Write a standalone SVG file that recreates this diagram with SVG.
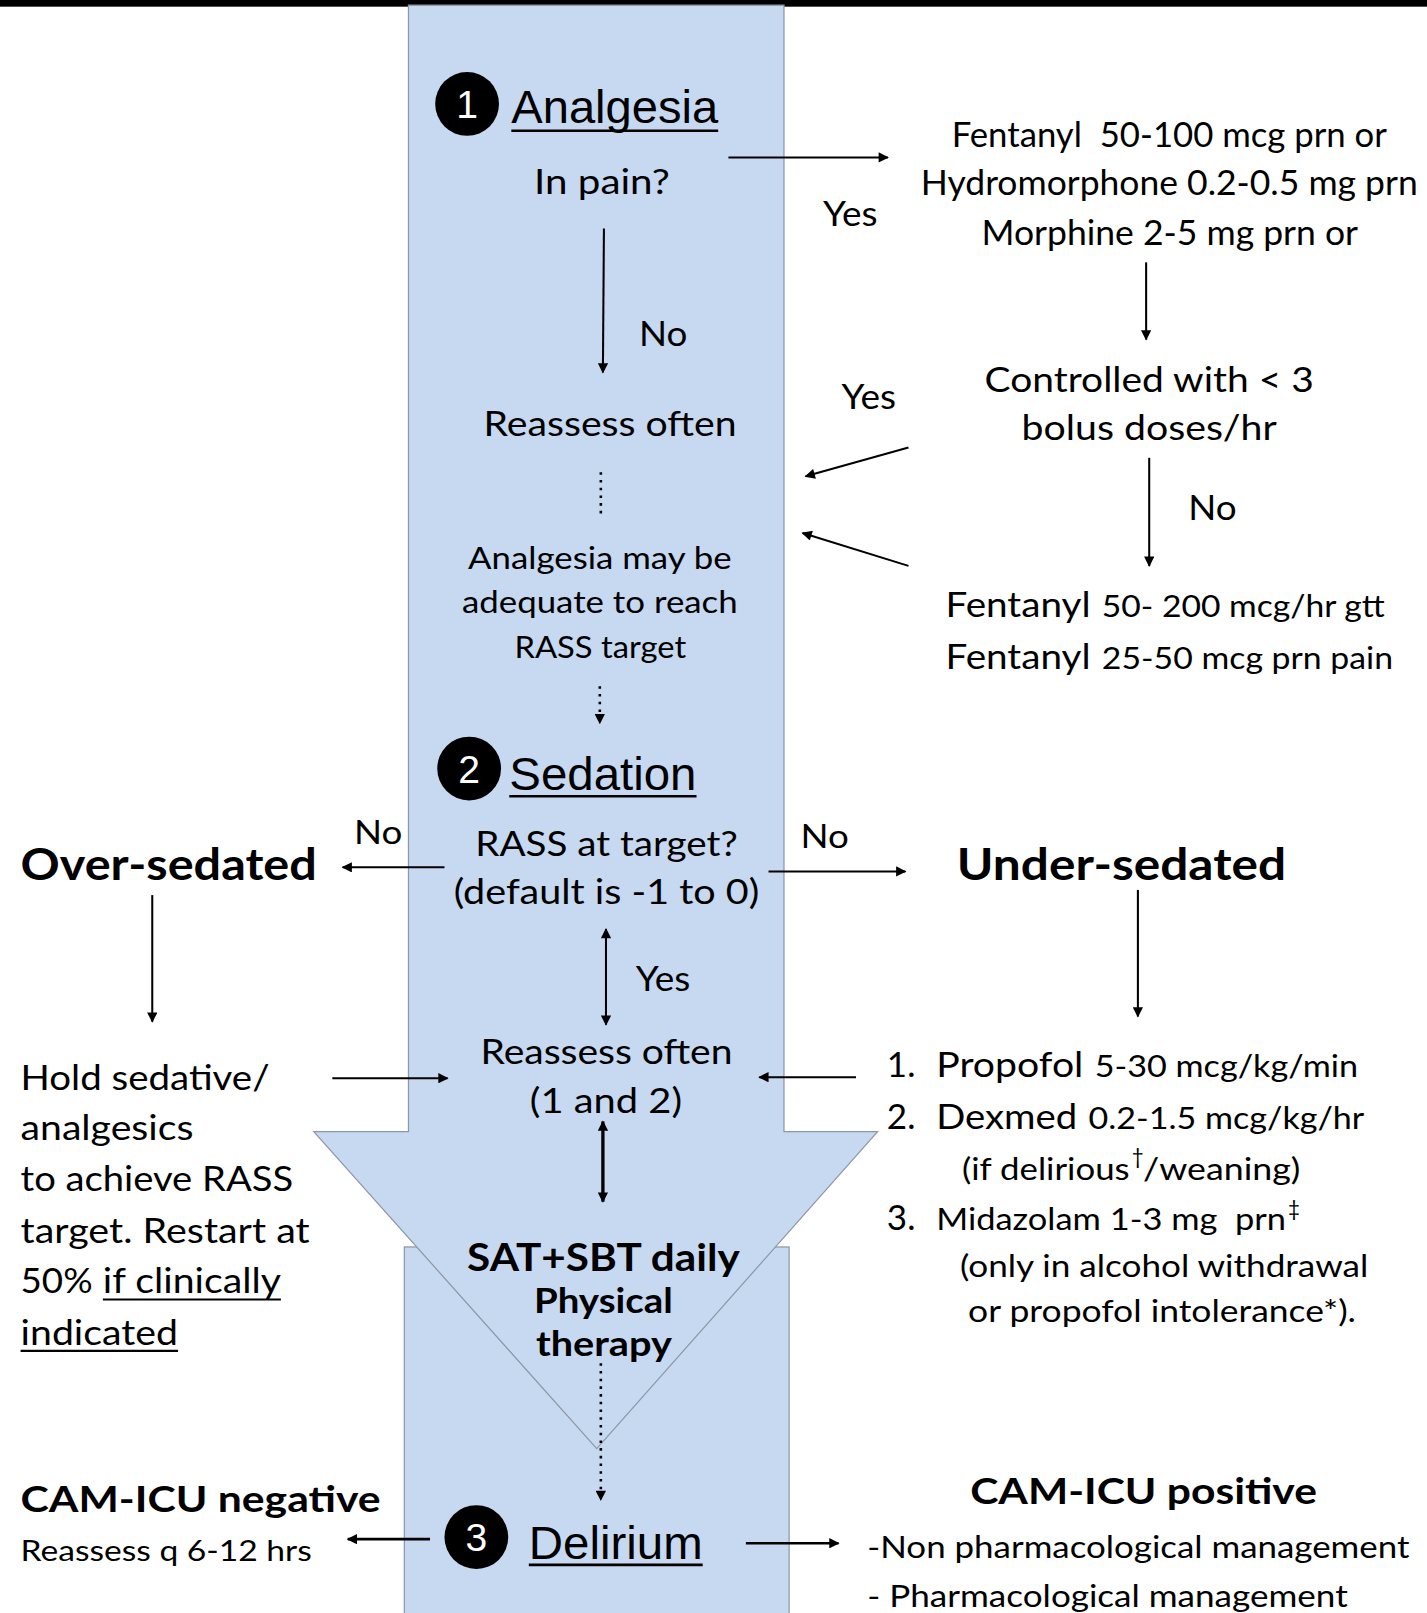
<svg xmlns="http://www.w3.org/2000/svg" width="1427" height="1613" viewBox="0 0 1427 1613">
<defs>
<style>
.t{font-family:Lato,"Open Sans","DejaVu Sans",sans-serif;fill:#000;white-space:pre;}
.b{font-family:Lato,"Open Sans","DejaVu Sans",sans-serif;font-weight:bold;fill:#000;}
.h{font-family:"Liberation Sans",Arial,sans-serif;fill:#000;}
.n{font-family:"Liberation Sans",Arial,sans-serif;fill:#fff;}
.ln{stroke:#000;stroke-width:2;fill:none;}
.dot{stroke:#000;stroke-width:2.5;fill:none;stroke-dasharray:2.5 5;}
.ul{stroke:#000;stroke-width:2.5;}
.band{fill:#c6d9f0;stroke:#8d97a6;stroke-width:1.2;}
</style>
<marker id="ah" viewBox="0 0 10 10" refX="9" refY="5" markerWidth="12" markerHeight="10" markerUnits="userSpaceOnUse" orient="auto-start-reverse">
<path d="M0,0 L10,5 L0,10 z" fill="#000"/>
</marker>
</defs>
<g transform="scale(1.02884)">
<rect x="0" y="0" width="1387" height="6.5" fill="#000"/>
<g id="band">
<rect class="band" x="393" y="1212" width="374" height="370"/>
<path class="band" d="M397,5 L762,5 L762,1100 L853,1100 L580,1408 L305,1100 L397,1100 Z"/>
</g>
<g id="connectors">
<line class="ln" x1="708" y1="153" x2="863" y2="153" marker-end="url(#ah)"/>
<line class="ln" x1="587" y1="222" x2="586" y2="362" marker-end="url(#ah)"/>
<line class="ln" x1="1114" y1="255" x2="1114" y2="330" marker-end="url(#ah)"/>
<line class="ln" x1="1117" y1="445" x2="1117" y2="550" marker-end="url(#ah)"/>
<line class="ln" x1="883" y1="435" x2="783" y2="463" marker-end="url(#ah)"/>
<line class="ln" x1="883" y1="550" x2="780" y2="518" marker-end="url(#ah)"/>
<line class="dot" x1="584" y1="459" x2="584" y2="503"/>
<line class="dot" x1="583" y1="667" x2="583" y2="703" marker-end="url(#ah)"/>
<line class="ln" x1="432" y1="843" x2="333" y2="843" marker-end="url(#ah)"/>
<line class="ln" x1="747" y1="847" x2="880" y2="847" marker-end="url(#ah)"/>
<line class="ln" x1="148" y1="870" x2="148" y2="993" marker-end="url(#ah)"/>
<line class="ln" x1="1106" y1="865" x2="1106" y2="988" marker-end="url(#ah)"/>
<line class="ln" x1="589" y1="903" x2="589" y2="996" marker-start="url(#ah)" marker-end="url(#ah)"/>
<line class="ln" x1="323" y1="1048" x2="435" y2="1048" marker-end="url(#ah)"/>
<line class="ln" x1="832" y1="1047" x2="738" y2="1047" marker-end="url(#ah)"/>
<line class="ln" style="stroke-width:3.2" x1="586" y1="1090" x2="586" y2="1168" marker-start="url(#ah)" marker-end="url(#ah)"/>
<line class="dot" x1="584" y1="1325" x2="584" y2="1458" marker-end="url(#ah)"/>
<line class="ln" style="stroke-width:2.6" x1="418" y1="1496" x2="338" y2="1496" marker-end="url(#ah)"/>
<line class="ln" style="stroke-width:2.6" x1="725" y1="1500" x2="815" y2="1500" marker-end="url(#ah)"/>
</g>
<g id="analgesia">
<circle cx="454" cy="101" r="31" fill="#000"/>
<text class="n" x="454" y="115" font-size="38" text-anchor="middle">1</text>
<text class="h" x="497" y="120" font-size="45" textLength="201" lengthAdjust="spacingAndGlyphs">Analgesia</text>
<line class="ul" x1="497" y1="127" x2="698" y2="127"/>
</g>
<g id="in-pain"><text class="t" x="519" y="189" font-size="34" textLength="132" lengthAdjust="spacingAndGlyphs">In pain?</text></g>
<g id="yes1"><text class="t" x="800" y="220" font-size="34" textLength="53" lengthAdjust="spacingAndGlyphs">Yes</text></g>
<g id="opioids">
<text class="t" x="925" y="143" font-size="33" textLength="423" lengthAdjust="spacingAndGlyphs">Fentanyl  50-100 mcg prn or</text>
<text class="t" x="895" y="190" font-size="33" textLength="483" lengthAdjust="spacingAndGlyphs">Hydromorphone 0.2-0.5 mg prn</text>
<text class="t" x="954" y="238" font-size="33" textLength="366" lengthAdjust="spacingAndGlyphs">Morphine 2-5 mg prn or</text>
</g>
<g id="no1"><text class="t" x="621" y="336" font-size="34" textLength="47" lengthAdjust="spacingAndGlyphs">No</text></g>
<g id="controlled">
<text class="t" x="957" y="381" font-size="34" textLength="320" lengthAdjust="spacingAndGlyphs">Controlled with &lt; 3</text>
<text class="t" x="993" y="428" font-size="34" textLength="248" lengthAdjust="spacingAndGlyphs">bolus doses/hr</text>
</g>
<g id="yes2"><text class="t" x="818" y="398" font-size="34" textLength="53" lengthAdjust="spacingAndGlyphs">Yes</text></g>
<g id="reassess1"><text class="t" x="470" y="424" font-size="34" textLength="246" lengthAdjust="spacingAndGlyphs">Reassess often</text></g>
<g id="no2"><text class="t" x="1155" y="505" font-size="34" textLength="47" lengthAdjust="spacingAndGlyphs">No</text></g>
<g id="fentanyl-gtt">
<text class="t" y="600" font-size="33"><tspan x="919" textLength="141" lengthAdjust="spacingAndGlyphs">Fentanyl</tspan><tspan x="1071" font-size="30" textLength="275" lengthAdjust="spacingAndGlyphs">50- 200 mcg/hr gtt</tspan></text>
<text class="t" y="650" font-size="33"><tspan x="919" textLength="141" lengthAdjust="spacingAndGlyphs">Fentanyl</tspan><tspan x="1071" font-size="30" textLength="283" lengthAdjust="spacingAndGlyphs">25-50 mcg prn pain</tspan></text>
</g>
<g id="adequate">
<text class="t" x="455" y="553" font-size="30" textLength="256" lengthAdjust="spacingAndGlyphs">Analgesia may be</text>
<text class="t" x="449" y="596" font-size="30" textLength="268" lengthAdjust="spacingAndGlyphs">adequate to reach</text>
<text class="t" x="500" y="640" font-size="30" textLength="167" lengthAdjust="spacingAndGlyphs">RASS target</text>
</g>
<g id="sedation">
<circle cx="456" cy="747" r="31" fill="#000"/>
<text class="n" x="456" y="761" font-size="38" text-anchor="middle">2</text>
<text class="h" x="495" y="768" font-size="45" textLength="182" lengthAdjust="spacingAndGlyphs">Sedation</text>
<line class="ul" x1="495" y1="774" x2="677" y2="774"/>
</g>
<g id="rass">
<text class="t" x="462" y="832" font-size="34" textLength="255" lengthAdjust="spacingAndGlyphs">RASS at target?</text>
<text class="t" x="441" y="879" font-size="34" textLength="297" lengthAdjust="spacingAndGlyphs">(default is -1 to 0)</text>
</g>
<g id="no3"><text class="t" x="344" y="820" font-size="32" textLength="47" lengthAdjust="spacingAndGlyphs">No</text></g>
<g id="no4"><text class="t" x="778" y="824" font-size="32" textLength="47" lengthAdjust="spacingAndGlyphs">No</text></g>
<g id="over-sedated"><text class="b" x="20" y="855" font-size="42" textLength="288" lengthAdjust="spacingAndGlyphs">Over-sedated</text></g>
<g id="under-sedated"><text class="b" x="930" y="855" font-size="42" textLength="320" lengthAdjust="spacingAndGlyphs">Under-sedated</text></g>
<g id="yes3"><text class="t" x="618" y="963" font-size="34" textLength="53" lengthAdjust="spacingAndGlyphs">Yes</text></g>
<g id="reassess2">
<text class="t" x="467" y="1034" font-size="34" textLength="245" lengthAdjust="spacingAndGlyphs">Reassess often</text>
<text class="t" x="515" y="1082" font-size="34" textLength="148" lengthAdjust="spacingAndGlyphs">(1 and 2)</text>
</g>
<g id="hold">
<text class="t" x="20" y="1059" font-size="34" textLength="242" lengthAdjust="spacingAndGlyphs">Hold sedative/</text>
<text class="t" x="20" y="1108" font-size="34" textLength="168" lengthAdjust="spacingAndGlyphs">analgesics</text>
<text class="t" x="20" y="1158" font-size="34" textLength="265" lengthAdjust="spacingAndGlyphs">to achieve RASS</text>
<text class="t" x="20" y="1208" font-size="34" textLength="281" lengthAdjust="spacingAndGlyphs">target. Restart at</text>
<text class="t" y="1257" font-size="34"><tspan x="20" textLength="70" lengthAdjust="spacingAndGlyphs">50%</tspan><tspan x="100" textLength="173" lengthAdjust="spacingAndGlyphs">if clinically</tspan></text>
<line x1="100" y1="1263" x2="273" y2="1263" stroke="#000" stroke-width="2"/>
<text class="t" x="20" y="1307" font-size="34" textLength="153" lengthAdjust="spacingAndGlyphs">indicated</text>
<line x1="20" y1="1313" x2="173" y2="1313" stroke="#000" stroke-width="2"/>
</g>
<g id="drugs">
<text class="t" x="862" y="1047" font-size="34">1.</text>
<text class="t" y="1047" font-size="34"><tspan x="910" textLength="143" lengthAdjust="spacingAndGlyphs">Propofol</tspan><tspan x="1064" font-size="30" textLength="256" lengthAdjust="spacingAndGlyphs">5-30 mcg/kg/min</tspan></text>
<text class="t" x="862" y="1097" font-size="34">2.</text>
<text class="t" y="1097" font-size="34"><tspan x="910" textLength="137" lengthAdjust="spacingAndGlyphs">Dexmed</tspan><tspan x="1058" font-size="30" textLength="268" lengthAdjust="spacingAndGlyphs">0.2-1.5 mcg/kg/hr</tspan></text>
<text class="t" y="1147" font-size="30"><tspan x="935" textLength="163" lengthAdjust="spacingAndGlyphs">(if delirious</tspan><tspan x="1100" y="1131" font-size="20">†</tspan><tspan x="1111" y="1147" textLength="153" lengthAdjust="spacingAndGlyphs">/weaning)</tspan></text>
<text class="t" x="862" y="1196" font-size="34">3.</text>
<text class="t" y="1196" font-size="30"><tspan x="910" textLength="340" lengthAdjust="spacingAndGlyphs">Midazolam 1-3 mg  prn</tspan><tspan x="1252" y="1182" font-size="20">‡</tspan></text>
<text class="t" x="933" y="1241" font-size="30" textLength="397" lengthAdjust="spacingAndGlyphs">(only in alcohol withdrawal</text>
<text class="t" x="941" y="1285" font-size="30" textLength="377" lengthAdjust="spacingAndGlyphs">or propofol intolerance*).</text>
</g>
<g id="sat">
<text class="b" x="454" y="1235" font-size="37" textLength="265" lengthAdjust="spacingAndGlyphs">SAT+SBT daily</text>
<text class="b" x="519" y="1276" font-size="33" textLength="135" lengthAdjust="spacingAndGlyphs">Physical</text>
<text class="b" x="521" y="1318" font-size="33" textLength="132" lengthAdjust="spacingAndGlyphs">therapy</text>
</g>
<g id="delirium">
<circle cx="463" cy="1494" r="31" fill="#000"/>
<text class="n" x="463" y="1508" font-size="38" text-anchor="middle">3</text>
<text class="h" x="514" y="1515" font-size="45" textLength="169" lengthAdjust="spacingAndGlyphs">Delirium</text>
<line class="ul" x1="514" y1="1521" x2="683" y2="1521"/>
</g>
<g id="cam-neg">
<text class="b" x="20" y="1470" font-size="36" textLength="350" lengthAdjust="spacingAndGlyphs">CAM-ICU negative</text>
<text class="t" x="20" y="1517" font-size="29" textLength="283" lengthAdjust="spacingAndGlyphs">Reassess q 6-12 hrs</text>
</g>
<g id="cam-pos">
<text class="b" x="943" y="1462" font-size="36" textLength="337" lengthAdjust="spacingAndGlyphs">CAM-ICU positive</text>
<text class="t" x="843" y="1514" font-size="30" textLength="527" lengthAdjust="spacingAndGlyphs">-Non pharmacological management</text>
<text class="t" x="843" y="1562" font-size="30" textLength="467" lengthAdjust="spacingAndGlyphs">- Pharmacological management</text>
</g>
</g>
</svg>
